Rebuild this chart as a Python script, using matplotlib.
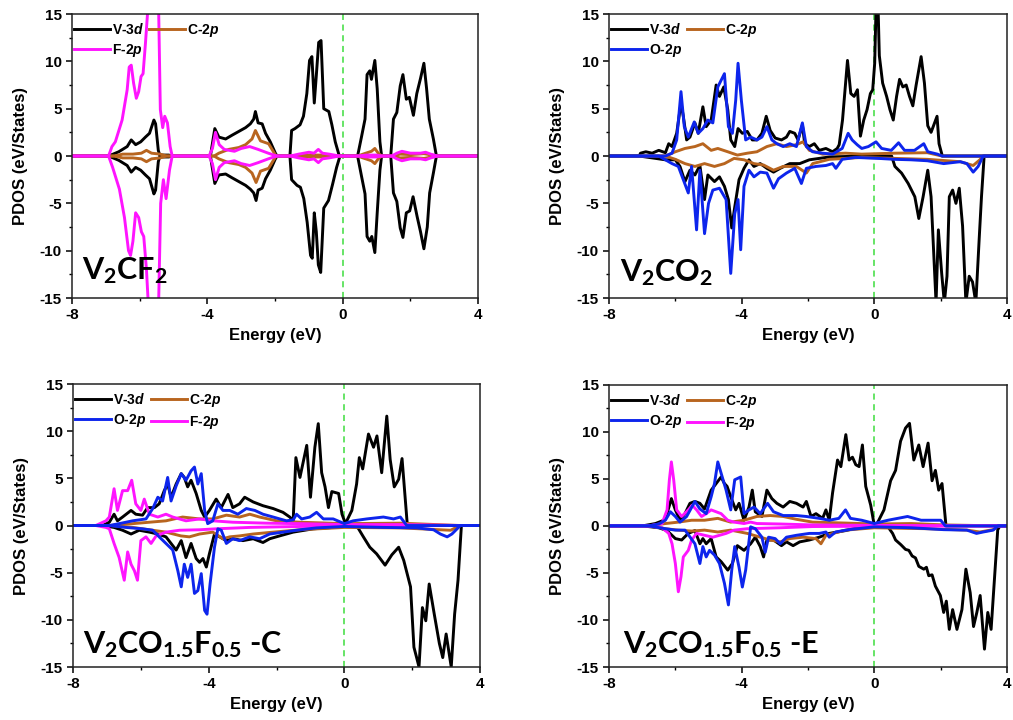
import matplotlib
matplotlib.use('Agg')
import matplotlib.pyplot as plt
from matplotlib.ticker import MultipleLocator

plt.rcParams['font.family'] = 'Liberation Sans'
plt.rcParams['font.weight'] = 'bold'
plt.rcParams['axes.unicode_minus'] = False
plt.rcParams['mathtext.fontset'] = 'custom'
plt.rcParams['mathtext.rm'] = 'Lato:bold'
plt.rcParams['mathtext.bf'] = 'Lato:bold'
plt.rcParams['mathtext.it'] = 'Liberation Sans:italic:bold'

# (energy eV, PDOS); spin up positive, spin down negative

# ---- V2CF2 ----
cf2_v_up = [(-8, 0), (-6.92, 0), (-6.62, 0.45), (-6.37, 1.0), (-6.25, 1.7), (-6.12, 1.2), (-5.97, 1.5), (-5.83, 2.0),
            (-5.71, 2.4), (-5.58, 3.8), (-5.53, 3.4), (-5.45, 0.6), (-5.41, 0.1), (-5.13, 0.1), (-5.1, 0),
            (-3.91, 0), (-3.78, 2.9), (-3.66, 2.0), (-3.46, 1.8), (-3.27, 2.2), (-3.07, 2.6), (-2.87, 3.0), (-2.73, 3.4),
            (-2.63, 3.9), (-2.58, 4.7), (-2.50, 3.5), (-2.38, 3.4), (-2.28, 2.4), (-2.14, 1.5), (-1.99, 0.3), (-1.94, 0),
            (-1.56, 0), (-1.51, 2.7), (-1.41, 2.9), (-1.26, 3.3), (-1.16, 4.2), (-1.06, 6.6), (-0.98, 10.1), (-0.91, 10.5),
            (-0.84, 5.6), (-0.78, 8.5), (-0.71, 12.0), (-0.64, 12.2), (-0.56, 5.0), (-0.41, 4.7), (-0.32, 3.3),
            (-0.22, 1.5), (-0.10, 0),
            (0.44, 0), (0.56, 2.1), (0.66, 3.9), (0.72, 8.6), (0.80, 9.0), (0.85, 8.1), (0.95, 10.1), (1.02, 7.1),
            (1.10, 1.5), (1.15, 0),
            (1.42, 0), (1.50, 3.9), (1.60, 4.6), (1.70, 7.4), (1.78, 8.6), (1.88, 6.0), (1.97, 6.2), (2.09, 4.3),
            (2.19, 6.6), (2.30, 8.2), (2.40, 9.8), (2.48, 7.1), (2.56, 3.9), (2.68, 1.8), (2.77, 0), (4, 0)]
cf2_v_dn = [(-8, 0), (-6.92, 0), (-6.62, -0.45), (-6.37, -1.0), (-6.25, -1.7), (-6.12, -1.2), (-5.97, -1.5), (-5.83, -2.0),
            (-5.71, -2.4), (-5.58, -4.0), (-5.53, -3.6), (-5.45, -0.6), (-5.41, -0.1), (-5.13, -0.1), (-5.1, 0),
            (-3.91, 0), (-3.78, -2.9), (-3.66, -2.0), (-3.46, -1.9), (-3.27, -2.3), (-3.07, -2.7), (-2.87, -3.1),
            (-2.73, -3.5), (-2.63, -3.9), (-2.56, -4.7), (-2.50, -3.6), (-2.38, -3.4), (-2.28, -2.4), (-2.14, -1.5),
            (-1.99, -0.3), (-1.94, 0),
            (-1.56, 0), (-1.51, -2.5), (-1.35, -3.1), (-1.25, -3.3), (-1.15, -4.5), (-1.05, -7.0), (-0.95, -10.5),
            (-0.90, -10.8), (-0.84, -6.0), (-0.78, -8.0), (-0.72, -11.5), (-0.65, -12.3), (-0.56, -5.5), (-0.42, -4.7),
            (-0.30, -3.0), (-0.18, -1.2), (-0.08, 0),
            (0.44, 0), (0.56, -2.2), (0.66, -4.0), (0.72, -8.5), (0.80, -9.0), (0.86, -8.5), (0.95, -10.2), (1.02, -6.0),
            (1.10, -1.5), (1.15, 0),
            (1.42, 0), (1.50, -3.9), (1.60, -4.8), (1.70, -7.6), (1.78, -8.6), (1.88, -6.0), (1.98, -5.8), (2.08, -4.3),
            (2.20, -6.4), (2.30, -8.0), (2.40, -9.8), (2.50, -7.5), (2.57, -3.9), (2.68, -1.8), (2.77, 0), (4, 0)]
cf2_c_up = [(-8, 0), (-6.75, 0), (-6.5, 0.2), (-6.2, 0.2), (-5.95, 0.3), (-5.8, 0.6), (-5.65, 0.3), (-5.4, 0.2),
            (-5.2, 0), (-3.8, 0), (-3.66, 0.3), (-3.37, 0.7), (-3.07, 0.9), (-2.87, 1.2), (-2.68, 1.8), (-2.58, 2.7),
            (-2.43, 1.6), (-2.19, 1.3), (-1.97, 0), (-1.5, 0), (-1.0, 0.1), (-0.5, 0.1), (-0.1, 0), (0.45, 0),
            (0.6, 0.2), (0.85, 0.5), (0.95, 0.8), (1.05, 0.3), (1.15, 0), (1.45, 0), (1.7, 0.2), (2.0, 0.15),
            (2.4, 0.25), (2.8, 0), (4, 0)]
cf2_c_dn = [(-8, 0), (-6.75, 0), (-6.5, -0.2), (-6.2, -0.2), (-5.95, -0.3), (-5.8, -0.6), (-5.65, -0.3), (-5.4, -0.2),
            (-5.2, 0), (-3.8, 0), (-3.66, -0.3), (-3.37, -0.7), (-3.07, -0.9), (-2.87, -1.2), (-2.68, -1.8),
            (-2.56, -2.8), (-2.43, -1.6), (-2.19, -1.3), (-1.97, 0), (-1.5, 0), (-1.0, -0.1), (-0.5, -0.1), (-0.1, 0),
            (0.45, 0), (0.6, -0.2), (0.85, -0.5), (0.95, -0.8), (1.05, -0.3), (1.15, 0), (1.45, 0), (1.7, -0.2),
            (2.0, -0.15), (2.4, -0.25), (2.8, 0), (4, 0)]
cf2_f_up = [(-8, 0), (-6.92, 0), (-6.82, 1.0), (-6.72, 1.5), (-6.52, 3.8), (-6.37, 7.0), (-6.31, 9.4), (-6.25, 9.6),
            (-6.18, 7.7), (-6.10, 6.1), (-6.03, 6.8), (-5.96, 8.4), (-5.90, 8.7), (-5.83, 11.9), (-5.75, 16),
            (-5.62, 20), (-5.50, 19), (-5.44, 15.5), (-5.39, 4.9), (-5.32, 3.0), (-5.26, 4.2), (-5.18, 3.5),
            (-5.10, 1.0), (-5.04, 0), (-3.95, 0), (-3.85, 0.8), (-3.76, 2.5), (-3.65, 1.2), (-3.5, 0.7), (-3.2, 0.5),
            (-3.0, 0.8), (-2.75, 1.0), (-2.5, 0.7), (-2.2, 0.3), (-1.95, 0), (-1.55, 0), (-1.3, 0.2), (-1.0, 0.4),
            (-0.85, 0.3), (-0.72, 0.7), (-0.6, 0.3), (-0.4, 0.2), (-0.1, 0), (0.45, 0), (0.7, 0.1), (1.0, 0.1),
            (1.15, 0), (1.45, 0), (1.6, 0.3), (1.75, 0.5), (2.0, 0.3), (2.3, 0.3), (2.45, 0.4), (2.6, 0.2), (2.8, 0),
            (4, 0)]
cf2_f_dn = [(-8, 0), (-6.92, 0), (-6.8, -1.2), (-6.6, -3.5), (-6.45, -6.5), (-6.33, -10.0), (-6.27, -10.5),
            (-6.20, -9.0), (-6.12, -6.0), (-6.03, -6.5), (-5.95, -8.0), (-5.88, -8.5), (-5.80, -12.0), (-5.74, -16),
            (-5.62, -20), (-5.50, -19), (-5.44, -15.5), (-5.38, -5.0), (-5.30, -2.5), (-5.22, -4.5), (-5.12, -1.5),
            (-5.04, 0), (-3.95, 0), (-3.85, -0.8), (-3.76, -2.5), (-3.65, -1.2), (-3.5, -0.7), (-3.2, -0.5),
            (-3.0, -0.8), (-2.75, -1.0), (-2.5, -0.7), (-2.2, -0.3), (-1.95, 0), (-1.55, 0), (-1.3, -0.2),
            (-1.0, -0.4), (-0.85, -0.3), (-0.72, -0.7), (-0.6, -0.3), (-0.4, -0.2), (-0.1, 0), (0.45, 0), (0.7, -0.1),
            (1.0, -0.1), (1.15, 0), (1.45, 0), (1.6, -0.3), (1.75, -0.5), (2.0, -0.3), (2.3, -0.3), (2.45, -0.4),
            (2.6, -0.2), (2.8, 0), (4, 0)]

# ---- V2CO2 ----
co2_v_up = [(-8, 0), (-7.09, 0), (-7.05, 0.3), (-6.89, 0.45), (-6.70, 0.3), (-6.50, 0.6), (-6.30, 0.35), (-6.20, 1.3),
            (-6.10, 1.0), (-5.96, 2.4), (-5.83, 5.6), (-5.76, 4.2), (-5.66, 1.7), (-5.56, 2.0), (-5.41, 3.5),
            (-5.31, 2.4), (-5.17, 5.2), (-5.07, 3.1), (-4.92, 3.8), (-4.77, 7.5), (-4.67, 6.3), (-4.54, 7.3),
            (-4.42, 4.9), (-4.33, 1.7), (-4.21, 1.0), (-4.11, 2.9), (-3.98, 2.4), (-3.83, 2.6), (-3.68, 1.7),
            (-3.54, 1.7), (-3.39, 2.4), (-3.26, 4.2), (-3.14, 2.7), (-2.99, 1.9), (-2.80, 1.7), (-2.65, 2.0),
            (-2.55, 2.6), (-2.40, 2.4), (-2.30, 1.7), (-2.17, 3.3), (-2.10, 1.3), (-1.96, 1.0), (-1.81, 1.3),
            (-1.66, 0.6), (-1.46, 0.8), (-1.26, 0.45), (-1.12, 0.8), (-1.06, 1.2), (-0.96, 3.8), (-0.81, 10.1),
            (-0.71, 6.6), (-0.61, 6.3), (-0.51, 7.0), (-0.42, 2.1), (-0.32, 3.8), (-0.22, 4.9), (-0.12, 6.6),
            (-0.05, 7.0), (0.01, 9.8), (0.05, 15.5), (0.11, 16), (0.15, 10.6), (0.25, 7.7), (0.37, 6.3), (0.47, 4.9),
            (0.57, 3.8), (0.67, 6.3), (0.76, 8.1), (0.86, 7.3), (0.96, 7.5), (1.06, 6.3), (1.16, 5.3), (1.26, 7.5),
            (1.41, 10.5), (1.51, 7.7), (1.61, 3.2), (1.71, 2.5), (1.89, 4.2), (1.95, 1.3), (2.05, 0), (4, 0)]
co2_v_dn = [(-8, 0), (-7.09, 0), (-6.30, -0.4), (-6.0, -0.4), (-5.86, -1.1), (-5.71, -2.7), (-5.56, -1.5),
            (-5.41, -2.0), (-5.26, -1.0), (-5.12, -4.6), (-5.02, -2.0), (-4.82, -2.7), (-4.67, -2.2), (-4.52, -3.2),
            (-4.40, -4.6), (-4.30, -7.6), (-4.21, -5.4), (-4.08, -2.5), (-3.93, -1.3), (-3.78, -0.4), (-3.63, -1.1),
            (-3.44, -0.8), (-3.24, -1.3), (-3.04, -1.7), (-2.84, -1.3), (-2.55, -0.8), (-2.25, -0.8), (-1.96, -0.4),
            (-1.66, -0.25), (-1.36, -0.1), (-0.38, 0), (0.52, 0), (0.62, -1.1), (0.82, -1.8), (1.02, -2.9),
            (1.22, -4.3), (1.34, -6.6), (1.47, -4.3), (1.61, -1.5), (1.71, -4.3), (1.86, -15.5), (1.93, -7.8),
            (2.03, -12.4), (2.11, -15.5), (2.19, -12.7), (2.26, -4.3), (2.36, -3.6), (2.46, -5.0), (2.56, -3.4),
            (2.66, -7.4), (2.76, -15.5), (2.86, -12.7), (2.96, -13.3), (3.06, -15.5), (3.16, -8.8), (3.23, -4.3),
            (3.31, 0), (4, 0)]
co2_o_up = [(-8, 0), (-6.30, 0), (-6.1, 0.3), (-5.96, 1.7), (-5.83, 6.8), (-5.73, 3.1), (-5.61, 2.0), (-5.43, 3.6),
            (-5.31, 2.4), (-5.17, 2.9), (-5.02, 3.8), (-4.87, 3.5), (-4.72, 7.3), (-4.52, 8.7), (-4.40, 3.1),
            (-4.28, 2.4), (-4.18, 5.9), (-4.11, 9.8), (-4.01, 5.9), (-3.88, 1.7), (-3.73, 2.0), (-3.54, 1.7),
            (-3.39, 2.0), (-3.24, 3.1), (-3.09, 1.7), (-2.94, 1.3), (-2.75, 1.0), (-2.55, 1.3), (-2.35, 1.0),
            (-2.17, 3.5), (-2.05, 1.0), (-1.86, 0.45), (-1.56, 0.3), (-1.26, 0.2), (-0.97, 0.8), (-0.79, 2.4),
            (-0.67, 1.7), (-0.52, 1.2), (-0.38, 0.8), (-0.18, 1.0), (0.05, 1.5), (0.22, 0.8), (0.51, 0.6), (0.73, 1.4),
            (0.91, 0.6), (1.21, 0.6), (1.49, 1.3), (1.61, 0.45), (1.90, 0.2), (2.04, 0), (4, 0)]
co2_o_dn = [(-8, 0), (-6.5, 0), (-6.30, -0.4), (-6.1, -0.8), (-5.91, -1.1), (-5.76, -2.5), (-5.61, -3.9), (-5.51, -1.1),
            (-5.36, -7.8), (-5.26, -1.5), (-5.12, -8.2), (-5.0, -5.0), (-4.87, -3.6), (-4.67, -3.4), (-4.47, -4.6),
            (-4.33, -12.4), (-4.21, -6.1), (-4.11, -4.6), (-4.03, -9.9), (-3.93, -3.2), (-3.78, -1.5), (-3.63, -2.2),
            (-3.44, -1.7), (-3.24, -1.8), (-3.04, -3.4), (-2.89, -2.4), (-2.65, -1.8), (-2.40, -1.3), (-2.20, -2.9),
            (-2.05, -1.3), (-1.76, -1.1), (-1.46, -1.0), (-1.26, -0.8), (-1.16, -1.3), (-0.97, -0.35), (-0.57, -0.15),
            (0.12, -0.25), (0.61, -0.35), (1.11, -0.4), (1.60, -0.5), (2.09, -0.8), (2.59, -0.6), (2.79, -0.8),
            (2.98, -1.7), (3.13, -1.1), (3.28, 0), (4, 0)]
co2_c_up = [(-8, 0), (-6.3, 0), (-6.0, 0.45), (-5.71, 0.8), (-5.41, 1.0), (-5.17, 1.3), (-4.92, 0.6), (-4.72, 0.8),
            (-4.42, 0.45), (-4.13, 0.1), (-3.83, 0.3), (-3.54, 0.45), (-3.24, 1.0), (-2.94, 1.3), (-2.65, 1.0),
            (-2.35, 1.2), (-2.15, 1.5), (-1.96, 0.6), (-1.56, 0.2), (-0.87, 0.3), (-0.38, 0.2), (0.61, 0.3),
            (1.6, 0.35), (2.04, 0), (4, 0)]
co2_c_dn = [(-8, 0), (-6.3, 0), (-6.0, -0.35), (-5.71, -0.8), (-5.41, -1.1), (-5.12, -0.8), (-4.82, -1.1),
            (-4.52, -0.8), (-4.23, -0.25), (-3.93, -0.4), (-3.63, -0.8), (-3.34, -0.95), (-3.04, -1.5), (-2.75, -1.1),
            (-2.35, -1.1), (-2.05, -1.8), (-1.86, -0.8), (-1.36, -0.35), (-0.38, -0.15), (0.61, -0.25), (1.6, -0.35),
            (2.59, -0.6), (2.98, -1.0), (3.18, -0.4), (3.28, 0), (4, 0)]

# ---- V2CO1.5F0.5 -C ----
pc_v_up = [(-8, 0), (-7.13, 0), (-6.93, 0.35), (-6.79, 1.2), (-6.69, 0.5), (-6.54, 0.9), (-6.29, 1.6), (-6.15, 1.2),
           (-5.95, 1.1), (-5.80, 1.9), (-5.60, 1.9), (-5.46, 2.3), (-5.31, 3.7), (-5.21, 4.4), (-5.11, 3.0),
           (-4.96, 4.4), (-4.81, 5.5), (-4.72, 5.1), (-4.62, 4.1), (-4.52, 4.8), (-4.37, 3.4), (-4.22, 1.6),
           (-4.12, 0.9), (-3.98, 1.6), (-3.78, 2.8), (-3.63, 1.9), (-3.43, 3.3), (-3.29, 1.9), (-3.09, 2.3),
           (-2.94, 3.0), (-2.69, 2.5), (-2.40, 2.1), (-2.10, 1.8), (-1.81, 1.4), (-1.61, 0.9), (-1.51, 0.5),
           (-1.43, 7.2), (-1.31, 5.1), (-1.11, 8.5), (-1.00, 3.0), (-0.87, 8.3), (-0.77, 10.8), (-0.67, 5.6),
           (-0.57, 4.1), (-0.47, 1.9), (-0.37, 3.6), (-0.17, 3.4), (-0.07, 1.2), (0.03, 0.2), (0.22, 1.6), (0.36, 4.4),
           (0.44, 7.2), (0.54, 6.0), (0.71, 9.7), (0.86, 8.3), (0.96, 9.5), (1.10, 5.6), (1.25, 11.6), (1.35, 7.0),
           (1.47, 4.1), (1.60, 4.9), (1.70, 7.1), (1.85, 0.3), (1.90, 0), (4, 0)]
pc_v_dn = [(-8, 0), (-7.13, 0), (-6.79, -0.2), (-6.54, -0.5), (-6.29, -0.9), (-6.05, -0.5), (-5.75, -0.7), (-5.50, -0.9),
           (-5.26, -1.2), (-5.11, -1.9), (-4.96, -2.6), (-4.81, -1.6), (-4.67, -3.4), (-4.52, -1.9), (-4.37, -3.5),
           (-4.27, -3.9), (-4.17, -3.5), (-4.07, -4.4), (-3.98, -3.0), (-3.83, -0.9), (-3.68, -1.2), (-3.48, -1.6),
           (-3.29, -1.4), (-2.99, -1.6), (-2.69, -1.4), (-2.40, -1.8), (-2.20, -1.4), (-1.91, -1.1), (-1.51, -0.7),
           (-0.92, -0.35), (-0.33, -0.2), (0.3, 0), (0.41, -0.3), (0.56, -1.2), (0.75, -2.3), (0.95, -3.0),
           (1.20, -4.2), (1.40, -3.1), (1.60, -2.3), (1.75, -3.7), (1.95, -6.5), (2.05, -12.9), (2.13, -14.0),
           (2.20, -15.0), (2.30, -8.7), (2.40, -10.1), (2.50, -6.2), (2.65, -9.4), (2.80, -12.5), (2.90, -14.0),
           (3.00, -11.5), (3.15, -15.0), (3.25, -9.4), (3.35, -5.8), (3.45, 0), (4, 0)]
pc_o_up = [(-8, 0), (-6.93, 0), (-6.64, 0.2), (-6.24, 0.5), (-5.85, 0.7), (-5.65, 1.8), (-5.50, 3.0), (-5.36, 2.6),
           (-5.21, 5.1), (-5.11, 2.6), (-4.96, 4.2), (-4.81, 5.5), (-4.67, 4.8), (-4.52, 5.8), (-4.42, 6.2),
           (-4.32, 4.4), (-4.22, 5.5), (-4.12, 1.6), (-4.03, 0.2), (-3.88, 0.5), (-3.73, 2.3), (-3.58, 1.6),
           (-3.38, 1.6), (-3.14, 1.2), (-2.89, 1.8), (-2.64, 1.6), (-2.40, 1.2), (-2.10, 0.9), (-1.71, 0.5),
           (-1.51, 0.6), (-1.41, 1.2), (-1.26, 0.7), (-1.02, 0.9), (-0.82, 1.4), (-0.62, 0.7), (-0.33, 0.7),
           (0.0, 0.2), (0.26, 0.5), (0.66, 0.7), (1.15, 0.9), (1.45, 0.7), (1.65, 0.9), (1.84, 0), (4, 0)]
pc_o_dn = [(-8, 0), (-6.93, 0), (-6.44, -0.2), (-5.95, -0.35), (-5.65, -0.5), (-5.46, -1.2), (-5.26, -1.9),
           (-5.06, -2.6), (-4.91, -4.8), (-4.81, -6.5), (-4.72, -4.1), (-4.62, -5.5), (-4.52, -4.1), (-4.42, -7.2),
           (-4.32, -6.9), (-4.22, -5.1), (-4.12, -9.0), (-4.05, -9.4), (-3.96, -6.2), (-3.83, -2.3), (-3.73, -0.35),
           (-3.63, -0.5), (-3.48, -1.9), (-3.29, -1.4), (-3.09, -1.6), (-2.79, -1.2), (-2.50, -1.4), (-2.20, -0.9),
           (-1.81, -0.7), (-1.31, -0.45), (-0.82, -0.25), (0.0, -0.1), (1.15, -0.2), (2.14, -0.25), (2.63, -0.45),
           (2.83, -0.9), (3.03, -1.2), (3.17, -0.9), (3.42, 0), (4, 0)]
pc_f_up = [(-8, 0), (-7.33, 0), (-7.03, 0.5), (-6.93, 0.9), (-6.79, 3.9), (-6.69, 1.6), (-6.54, 3.7), (-6.39, 3.7),
           (-6.27, 4.8), (-6.15, 2.3), (-6.0, 1.6), (-5.90, 2.8), (-5.75, 1.2), (-5.50, 0.9), (-5.26, 1.2),
           (-5.06, 0.9), (-4.67, 0.5), (-4.27, 0.7), (-3.88, 0.5), (-3.29, 0.35), (-2.30, 0.25), (-1.31, 0.2),
           (0.0, 0.1), (1.65, 0.1), (2.63, 0.05), (3.42, 0), (4, 0)]
pc_f_dn = [(-8, 0), (-7.33, 0), (-7.03, -0.2), (-6.93, -0.35), (-6.79, -1.9), (-6.64, -3.4), (-6.49, -5.8),
           (-6.39, -2.8), (-6.29, -4.1), (-6.19, -4.8), (-6.10, -5.8), (-6.0, -1.6), (-5.85, -1.2), (-5.70, -1.9),
           (-5.55, -1.1), (-5.26, -0.7), (-4.86, -0.5), (-4.27, -0.45), (-3.78, -0.35), (-2.79, -0.2), (-1.31, -0.1),
           (0.0, -0.05), (3.42, 0), (4, 0)]
pc_c_up = [(-8, 0), (-6.93, 0), (-6.24, 0.2), (-5.75, 0.35), (-5.26, 0.5), (-4.77, 0.9), (-4.27, 0.7), (-3.88, 0.7),
           (-3.48, 1.1), (-3.09, 0.9), (-2.79, 1.2), (-2.50, 0.9), (-2.0, 0.5), (-1.31, 0.35), (0.0, 0.2),
           (1.65, 0.25), (3.42, 0), (4, 0)]
pc_c_dn = [(-8, 0), (-6.93, 0), (-6.24, -0.2), (-5.75, -0.45), (-5.26, -0.7), (-4.82, -1.1), (-4.57, -1.2),
           (-4.27, -0.9), (-3.88, -0.7), (-3.58, -1.4), (-3.38, -1.2), (-3.09, -1.1), (-2.69, -0.9), (-2.10, -0.7),
           (-1.31, -0.45), (0.0, -0.2), (1.65, -0.25), (2.83, -0.45), (3.13, -0.5), (3.42, 0), (4, 0)]

# ---- V2CO1.5F0.5 -E ----
pe_v_up = [(-8, 0), (-6.99, 0), (-6.60, 0.25), (-6.35, 0.6), (-6.25, 1.3), (-6.12, 2.9), (-6.0, 1.7), (-5.86, 0.6),
           (-5.71, 1.3), (-5.56, 2.4), (-5.41, 2.6), (-5.26, 2.4), (-5.12, 1.8), (-4.92, 3.8), (-4.77, 4.5),
           (-4.62, 5.2), (-4.52, 4.5), (-4.44, 4.2), (-4.33, 3.1), (-4.18, 1.7), (-4.08, 2.4), (-3.93, 0.6),
           (-3.78, 2.0), (-3.68, 3.8), (-3.59, 1.5), (-3.39, 1.0), (-3.24, 3.8), (-3.09, 2.9), (-2.94, 2.4),
           (-2.75, 2.0), (-2.55, 2.6), (-2.35, 2.4), (-2.15, 2.0), (-2.05, 2.6), (-1.91, 1.0), (-1.76, 1.3),
           (-1.56, 0.8), (-1.46, 1.7), (-1.36, 0.6), (-1.26, 3.5), (-1.11, 7.0), (-1.01, 6.3), (-0.86, 9.7),
           (-0.76, 7.0), (-0.66, 7.3), (-0.56, 6.5), (-0.46, 6.3), (-0.36, 8.6), (-0.26, 4.2), (-0.11, 2.2),
           (0.0, 0), (0.09, 0.3), (0.29, 1.7), (0.49, 4.8), (0.64, 5.9), (0.79, 9.0), (0.94, 10.4), (1.06, 10.9),
           (1.19, 7.0), (1.34, 8.6), (1.47, 6.3), (1.62, 8.8), (1.74, 4.8), (1.84, 5.9), (1.94, 3.8), (2.04, 4.5),
           (2.16, 0), (4, 0)]
pe_v_dn = [(-8, 0), (-6.99, 0), (-6.50, -0.2), (-6.25, -0.5), (-6.0, -1.35), (-5.81, -1.5), (-5.61, -0.8),
           (-5.41, -0.5), (-5.26, -1.9), (-5.17, -1.35), (-5.07, -1.9), (-4.92, -1.35), (-4.77, -3.3), (-4.62, -3.8),
           (-4.42, -4.7), (-4.28, -4.0), (-4.13, -2.1), (-3.93, -2.6), (-3.73, -1.9), (-3.59, -1.2), (-3.44, -2.2),
           (-3.34, -3.3), (-3.24, -1.5), (-3.04, -1.5), (-2.80, -2.1), (-2.65, -1.7), (-2.45, -2.1), (-2.25, -1.7),
           (-1.96, -1.5), (-1.66, -1.2), (-1.36, -0.8), (-0.87, -0.5), (-0.38, -0.1), (0.41, -0.1), (0.55, -0.8),
           (0.64, -1.5), (0.80, -2.0), (0.94, -2.5), (1.04, -2.6), (1.14, -3.2), (1.24, -3.4), (1.34, -4.3),
           (1.49, -4.6), (1.57, -4.4), (1.64, -5.3), (1.74, -5.2), (1.84, -6.4), (1.99, -7.4), (2.09, -9.2),
           (2.17, -8.0), (2.26, -11.0), (2.36, -8.9), (2.49, -11.0), (2.64, -8.9), (2.76, -4.6), (2.89, -7.1),
           (2.99, -10.7), (3.09, -9.2), (3.19, -7.4), (3.32, -13.1), (3.42, -9.2), (3.52, -11.0), (3.62, -5.7),
           (3.72, -0.4), (3.79, 0), (4, 0)]
pe_o_up = [(-8, 0), (-6.80, 0), (-6.5, 0.2), (-6.30, 0.6), (-6.15, 1.5), (-6.0, 1.0), (-5.86, 0.4), (-5.66, 1.0),
           (-5.41, 2.6), (-5.26, 1.8), (-5.07, 1.3), (-4.92, 3.1), (-4.82, 4.5), (-4.72, 6.8), (-4.62, 5.6),
           (-4.47, 3.8), (-4.33, 1.7), (-4.21, 4.9), (-4.03, 5.2), (-3.93, 1.3), (-3.78, 1.7), (-3.63, 2.0),
           (-3.44, 1.3), (-3.22, 2.4), (-3.04, 1.5), (-2.75, 1.1), (-2.35, 1.1), (-2.05, 1.0), (-1.66, 0.8),
           (-1.36, 0.6), (-1.07, 0.8), (-0.87, 1.7), (-0.72, 0.8), (-0.38, 0.6), (0.0, 0.25), (0.41, 0.6), (1.0, 1.0),
           (1.41, 0.6), (1.80, 0.6), (2.0, 0.6), (2.14, 0), (4, 0)]
pe_o_dn = [(-8, 0), (-6.80, 0), (-6.30, -0.3), (-6.0, -0.45), (-5.71, -0.45), (-5.41, -1.9), (-5.26, -4.0),
           (-5.17, -2.2), (-5.07, -3.3), (-4.97, -2.6), (-4.82, -3.1), (-4.67, -4.0), (-4.52, -6.1), (-4.40, -8.4),
           (-4.30, -4.7), (-4.21, -2.2), (-4.08, -4.4), (-3.98, -6.5), (-3.88, -4.7), (-3.73, -0.1), (-3.59, -0.3),
           (-3.39, -1.2), (-3.29, -2.8), (-3.19, -1.2), (-2.99, -1.35), (-2.84, -1.9), (-2.65, -1.2), (-2.35, -1.0),
           (-1.96, -0.8), (-1.66, -0.8), (-1.46, -0.65), (-1.36, -1.2), (-1.17, -0.65), (-0.77, -0.4), (0.0, -0.1),
           (1.11, -0.2), (2.09, -0.4), (2.79, -0.45), (3.08, -0.8), (3.28, -0.65), (3.58, -0.45), (3.73, 0), (4, 0)]
pe_f_up = [(-8, 0), (-6.80, 0), (-6.40, 0.25), (-6.25, 1.7), (-6.18, 4.9), (-6.12, 6.8), (-6.05, 4.9), (-5.96, 1.7),
           (-5.81, 1.0), (-5.61, 1.7), (-5.49, 2.2), (-5.36, 1.7), (-5.21, 1.0), (-5.07, 1.3), (-4.92, 1.7),
           (-4.77, 1.5), (-4.62, 1.3), (-4.42, 0.6), (-4.23, 0.4), (-3.93, 0.25), (-3.73, 0.4), (-3.54, 0.25),
           (-2.84, 0.2), (-1.86, 0.1), (0.0, 0.05), (3.73, 0), (4, 0)]
pe_f_dn = [(-8, 0), (-6.80, 0), (-6.40, -0.2), (-6.20, -0.8), (-6.10, -1.9), (-6.0, -4.0), (-5.91, -7.0),
           (-5.83, -5.4), (-5.76, -3.3), (-5.61, -2.6), (-5.51, -1.5), (-5.36, -0.8), (-5.12, -1.0), (-4.87, -1.2),
           (-4.67, -1.0), (-4.47, -0.8), (-4.23, -0.45), (-3.83, -0.3), (-2.84, -0.2), (-1.86, -0.07), (0.0, -0.03),
           (3.73, 0), (4, 0)]
pe_c_up = [(-8, 0), (-6.80, 0), (-6.3, 0.25), (-5.91, 0.4), (-5.51, 0.6), (-5.12, 0.6), (-4.72, 0.8), (-4.33, 0.4),
           (-3.93, 0.6), (-3.54, 1.0), (-3.14, 1.1), (-2.75, 1.0), (-2.35, 0.7), (-1.86, 0.4), (-0.87, 0.3),
           (0.0, 0.2), (1.11, 0.25), (2.14, 0.1), (3.73, 0), (4, 0)]
pe_c_dn = [(-8, 0), (-6.80, 0), (-6.3, -0.3), (-5.91, -0.45), (-5.51, -0.55), (-5.12, -0.45), (-4.72, -0.65),
           (-4.33, -0.45), (-3.83, -0.8), (-3.44, -1.2), (-3.14, -1.5), (-2.84, -1.7), (-2.55, -1.35), (-2.15, -1.2),
           (-1.76, -1.35), (-1.61, -1.9), (-1.46, -1.0), (-0.87, -0.45), (0.0, -0.2), (1.6, -0.3), (2.79, -0.45),
           (3.18, -0.65), (3.58, -0.4), (3.73, 0), (4, 0)]

colors = {'V': 'black', 'C': '#b8651f', 'O': '#0d25ec', 'F': '#ff14ff'}
names = {'V': 'V-3$d$', 'C': 'C-2$p$', 'O': 'O-2$p$', 'F': 'F-2$p$'}

panels = [
    dict(rect=[0.0711, 0.5861, 0.4008, 0.3944], text=r'$\mathrm{V_2CF_2}$', tpos=(0.025, 0.065),
         curves={'V': (cf2_v_up, cf2_v_dn), 'C': (cf2_c_up, cf2_c_dn), 'F': (cf2_f_up, cf2_f_dn)},
         order=['V', 'C', 'F'], leg=['V', 'F', 'C']),
    dict(rect=[0.6012, 0.5861, 0.3929, 0.3944], text=r'$\mathrm{V_2CO_2}$', tpos=(0.027, 0.06),
         curves={'V': (co2_v_up, co2_v_dn), 'C': (co2_c_up, co2_c_dn), 'O': (co2_o_up, co2_o_dn)},
         order=['V', 'C', 'O'], leg=['V', 'O', 'C']),
    dict(rect=[0.0721, 0.0736, 0.4018, 0.393], text=r'$\mathrm{V_2CO_{1.5}F_{0.5}}$ -C', tpos=(0.025, 0.05),
         curves={'V': (pc_v_up, pc_v_dn), 'C': (pc_c_up, pc_c_dn), 'F': (pc_f_up, pc_f_dn), 'O': (pc_o_up, pc_o_dn)},
         order=['V', 'C', 'F', 'O'], leg=['V', 'O', 'C', 'F']),
    dict(rect=[0.6012, 0.0736, 0.3929, 0.392], text=r'$\mathrm{V_2CO_{1.5}F_{0.5}}$ -E', tpos=(0.035, 0.05),
         curves={'V': (pe_v_up, pe_v_dn), 'C': (pe_c_up, pe_c_dn), 'F': (pe_f_up, pe_f_dn), 'O': (pe_o_up, pe_o_dn)},
         order=['V', 'C', 'F', 'O'], leg=['V', 'O', 'C', 'F']),
]

fig = plt.figure(figsize=(10.13, 7.2), dpi=100)

for p in panels:
    ax = fig.add_axes(p['rect'])
    ax.axvline(0, color='#3ddc3d', lw=1.1, ls=(0, (4, 3)), zorder=1)
    handles = {}
    for sp in p['order']:
        up, dn = p['curves'][sp]
        for pts in (up, dn):
            e, v = zip(*pts)
            line, = ax.plot(e, v, color=colors[sp], lw=2.1, solid_joinstyle='round', zorder=2)
        handles[sp] = line
    ax.set_xlim(-8, 4)
    ax.set_ylim(-15, 15)
    ax.xaxis.set_major_locator(MultipleLocator(4))
    ax.xaxis.set_minor_locator(MultipleLocator(2))
    ax.yaxis.set_major_locator(MultipleLocator(5))
    ax.yaxis.set_minor_locator(MultipleLocator(2.5))
    ax.tick_params(which='major', direction='out', length=4.5, width=1.1, labelsize=11, pad=3)
    ax.tick_params(which='minor', direction='out', length=2.5, width=1.0)
    for s in ax.spines.values():
        s.set_linewidth(1.1)
        s.set_color('#222222')
    ax.set_xlabel('Energy (eV)', fontsize=12, fontweight='bold', labelpad=4)
    ax.set_ylabel('PDOS (eV/States)', fontsize=12, fontweight='bold', labelpad=8)
    ax.legend([handles[s] for s in p['leg']], [names[s] for s in p['leg']], ncol=2, loc='upper left',
              bbox_to_anchor=(0.005, 0.972), frameon=False, prop=dict(weight='bold', size=10),
              handlelength=2.6, handletextpad=0.15, columnspacing=0.3, labelspacing=0.35,
              borderpad=0, borderaxespad=0)
    ax.text(p['tpos'][0], p['tpos'][1], p['text'], transform=ax.transAxes, fontsize=22,
            family='Lato', fontweight='bold', ha='left', va='baseline')

fig.savefig('out.png', dpi=100)
